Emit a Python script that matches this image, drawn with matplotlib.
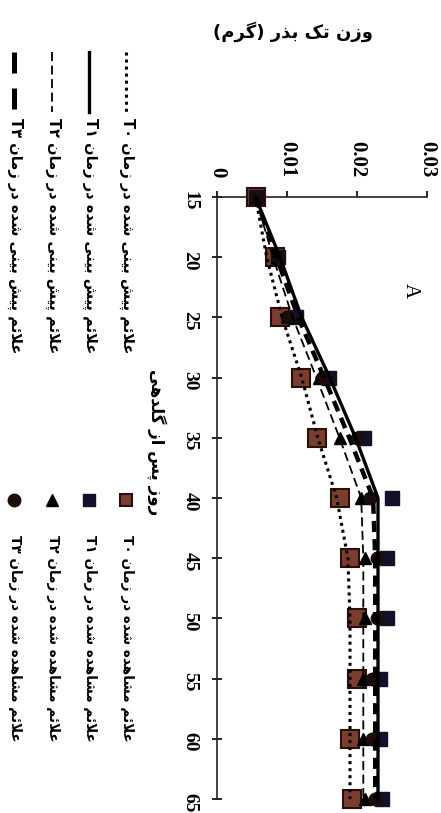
import matplotlib
matplotlib.use('Agg')
import matplotlib.pyplot as plt

# days after flowering
days = [15, 20, 25, 30, 35, 40, 45, 50, 55, 60, 65]
weight_ticks = [0, 0.01, 0.02, 0.03]
weight_tick_labels = ['0', '0.01', '0.02', '0.03']
series_names = ['T۰', 'T۱', 'T۲', 'T۳']

# predicted (lines)
pred_t0 = [0.0055, 0.0071, 0.0093, 0.0121, 0.0144, 0.0171, 0.0187, 0.0190, 0.0190, 0.0190, 0.0190]
pred_t1 = [0.0055, 0.0090, 0.0121, 0.0161, 0.0198, 0.0230, 0.0230, 0.0230, 0.0230, 0.0230, 0.0230]
pred_t2 = [0.0055, 0.0080, 0.0108, 0.0142, 0.0175, 0.0206, 0.0209, 0.0209, 0.0209, 0.0209, 0.0209]
pred_t3 = [0.0055, 0.0085, 0.0116, 0.0153, 0.0189, 0.0223, 0.0226, 0.0226, 0.0226, 0.0226, 0.0226]

# observed (markers)
obs_t0 = [0.0055, 0.0083, 0.0090, 0.0120, 0.0143, 0.0176, 0.0190, 0.0200, 0.0200, 0.0190, 0.0193]
obs_t1 = [0.0055, 0.0087, 0.0113, 0.0160, 0.0210, 0.0250, 0.0243, 0.0243, 0.0233, 0.0233, 0.0236]
obs_t2 = [0.0055, 0.0085, 0.0100, 0.0145, 0.0176, 0.0205, 0.0212, 0.0212, 0.0208, 0.0208, 0.0212]
obs_t3 = [0.0055, 0.0087, 0.0100, 0.0150, 0.0200, 0.0219, 0.0229, 0.0229, 0.0221, 0.0221, 0.0226]

ylabel_text = 'وزن تک بذر (گرم)'
xlabel_text = 'روز پس از گلدهی'
pred_text = 'علائم پیش بینی شده در زمان'
obs_text = 'علائم مشاهده شده در زمان'

# contextual forms: isolated, final, initial, medial
FORMS = {
    'ا': ('\uFE8D', '\uFE8E', None, None),
    'ب': ('\uFE8F', '\uFE90', '\uFE91', '\uFE92'),
    'پ': ('\uFB56', '\uFB57', '\uFB58', '\uFB59'),
    'ت': ('\uFE95', '\uFE96', '\uFE97', '\uFE98'),
    'د': ('\uFEA9', '\uFEAA', None, None),
    'ذ': ('\uFEAB', '\uFEAC', None, None),
    'ر': ('\uFEAD', '\uFEAE', None, None),
    'ز': ('\uFEAF', '\uFEB0', None, None),
    'س': ('\uFEB1', '\uFEB2', '\uFEB3', '\uFEB4'),
    'ش': ('\uFEB5', '\uFEB6', '\uFEB7', '\uFEB8'),
    'ع': ('\uFEC9', '\uFECA', '\uFECB', '\uFECC'),
    'ک': ('\uFB8E', '\uFB8F', '\uFB90', '\uFB91'),
    'گ': ('\uFB92', '\uFB93', '\uFB94', '\uFB95'),
    'ل': ('\uFEDD', '\uFEDE', '\uFEDF', '\uFEE0'),
    'م': ('\uFEE1', '\uFEE2', '\uFEE3', '\uFEE4'),
    'ن': ('\uFEE5', '\uFEE6', '\uFEE7', '\uFEE8'),
    'ه': ('\uFEE9', '\uFEEA', '\uFEEB', '\uFEEC'),
    'و': ('\uFEED', '\uFEEE', None, None),
    'ی': ('\uFBFC', '\uFBFD', '\uFBFE', '\uFBFF'),
    'ئ': ('\uFE89', '\uFE8A', '\uFE8B', '\uFE8C'),
    '\uFEFB': ('\uFEFB', '\uFEFC', None, None),
}


def shape(text):
    """join Persian letters and put them in visual (left-to-right) order"""
    text = text.replace('لا', '\uFEFB')
    res = []
    for i, ch in enumerate(text):
        if ch not in FORMS:
            res.append(ch)
            continue
        prev = text[i - 1] if i > 0 else ''
        nxt = text[i + 1] if i + 1 < len(text) else ''
        join_prev = prev in FORMS and FORMS[prev][2] is not None
        join_next = FORMS[ch][2] is not None and nxt in FORMS
        iso, fin, ini, med = FORMS[ch]
        if join_prev and join_next:
            res.append(med)
        elif join_prev:
            res.append(fin)
        elif join_next:
            res.append(ini)
        else:
            res.append(iso)
    return ''.join(res)[::-1].translate(str.maketrans('()', ')('))


W, H = 441, 813
fig = plt.figure(figsize=(W / 100, H / 100), dpi=100)

# main axes (chart drawn turned a quarter clockwise)
ax_l, ax_r, ax_t, ax_b = 217, 427, 197, 799
ax = fig.add_axes([ax_l / W, 1 - ax_b / H, (ax_r - ax_l) / W, (ax_b - ax_t) / H])
ax.set_xlim(0, 0.03)
ax.set_ylim(65, 15)
ax.xaxis.tick_top()
ax.spines['bottom'].set_visible(False)
ax.spines['right'].set_visible(False)
for s in ['top', 'left']:
    ax.spines[s].set_linewidth(1.2)
    ax.spines[s].set_color('#222222')

num_font = dict(family='Liberation Serif', weight='bold')
ax.set_xticks(weight_ticks)
ax.set_xticklabels(weight_tick_labels, rotation=-90, fontsize=15, **num_font)
ax.set_yticks(days)
ax.set_yticklabels([str(d) for d in days], rotation=-90, fontsize=14, **num_font)
ax.tick_params(axis='x', direction='out', length=4, width=1.2, pad=10)
ax.tick_params(axis='y', direction='inout', length=7, width=1.2, pad=10)

line_styles = [
    dict(ls=(0, (1, 1.3)), lw=2.2),
    dict(ls='-', lw=2.4),
    dict(ls=(0, (5, 2.5)), lw=1.3),
    dict(ls=(0, (2.5, 1.6)), lw=3.2),
]
marker_styles = [
    dict(marker='s', ms=13, mfc='#7a3e30', mec='#2a100a', mew=1.5),
    dict(marker='s', ms=10, mfc='#141028', mec='#141028', mew=1),
    dict(marker='^', ms=8, mfc='black', mec='black', mew=1),
    dict(marker='o', ms=9, mfc='#1a0d0a', mec='#1a0d0a', mew=1),
]

preds = [pred_t0, pred_t1, pred_t2, pred_t3]
obs = [obs_t0, obs_t1, obs_t2, obs_t3]
for vals, st in zip(obs, marker_styles):
    ax.plot(vals, days, ls='none', clip_on=False, zorder=3, **st)
for vals, st in zip(preds, line_styles):
    ax.plot(vals, days, color='black', clip_on=False, zorder=4, **st)

ax.text(0.92, 0.845, 'A', transform=ax.transAxes, rotation=-90, fontsize=15,
        family='Liberation Serif', ha='center', va='center')

# overlay in pixel units for titles and the legend
ov = fig.add_axes([0, 0, 1, 1])
ov.set_xlim(0, W)
ov.set_ylim(H, 0)
ov.axis('off')

fa_font = dict(family=['DejaVu Sans'], weight='bold')
ov.text(293, 32, shape(ylabel_text), fontsize=13, ha='center', va='center', **fa_font)
ov.text(157, 442, shape(xlabel_text), fontsize=12, rotation=-90,
        ha='center', va='center', **fa_font)

# legend keys: the dashed T3 key uses longer dashes as in the source
leg_line_styles = [dict(st) for st in line_styles]
leg_line_styles[3] = dict(ls=(0, (4.2, 3)), lw=3.6)
leg_x = [126, 89, 52, 14]
for name, st, x in zip(series_names, leg_line_styles, leg_x):
    ov.plot([x, x], [52, 112], color='black', **st)
    ov.text(x + 1, 118, name + ' ' + shape(pred_text), rotation=-90, fontsize=10.5,
            ha='center', va='top', **fa_font)

for name, st, x in zip(series_names, marker_styles, leg_x):
    st2 = dict(st)
    st2['ms'] = min(st['ms'], 9)
    ov.plot([x], [500], ls='none', **st2)
    ov.text(x + 1, 535, name + ' ' + shape(obs_text), rotation=-90, fontsize=9.8,
            ha='center', va='top', **fa_font)

fig.savefig('out.png', dpi=100)
